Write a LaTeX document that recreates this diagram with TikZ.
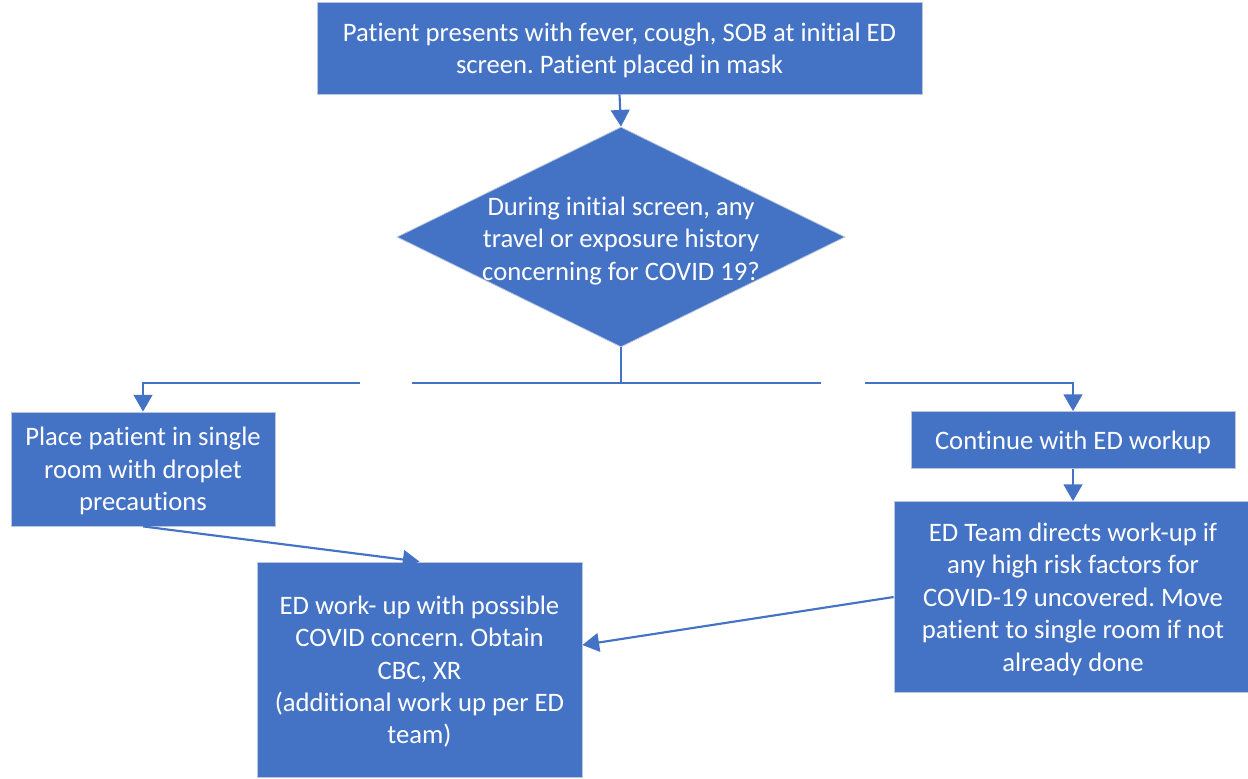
\documentclass[tikz,border=0pt]{standalone}
\usepackage{fontspec}
\setmainfont{Carlito}[Ligatures=NoCommon]
\usetikzlibrary{shapes.geometric,arrows.meta,calc}
\definecolor{boxblue}{HTML}{4472C4}
\definecolor{boxedge}{HTML}{B9C6DE}
\frenchspacing
\begin{document}
\begin{tikzpicture}[x=0.75pt,y=-0.75pt,
  txt/.style={text=white,align=center,font=\fontsize{20}{24.3}\selectfont\frenchspacing},
  box/.style={rectangle,fill=boxblue,draw=boxedge,line width=0.6pt,inner sep=0pt},
  boxtext/.style={label={[txt,yshift=-1.6pt]center:{#1}}},
  conn/.style={draw=boxblue,line width=1.6pt},
  arr/.style={conn,-{Triangle[width=14pt,length=12.5pt]}}]
\useasboundingbox (0,0) rectangle (1248,778);
\node[box,minimum width=605*0.75pt,minimum height=92*0.75pt,
  boxtext={Patient presents with fever, cough, SOB at initial ED\\screen. Patient placed in mask}] (top) at (619.5,48) {};
\node[diamond,fill=boxblue,draw=boxedge,line width=0.6pt,inner sep=0pt,minimum width=448*0.75pt,minimum height=220*0.75pt] (dia) at (621,237) {};
\node[txt] (diatext) at (621,241)
  {During initial screen, any\\travel or exposure history\\concerning for COVID 19?};
\node[box,minimum width=264*0.75pt,minimum height=114*0.75pt,
  boxtext={Place patient in single\\room with droplet\\precautions}] (left) at (143,469) {};
\node[box,minimum width=324*0.75pt,minimum height=57*0.75pt,
  boxtext={Continue with ED workup}] (cont) at (1073,440) {};
\node[box,minimum width=358*0.75pt,minimum height=191*0.75pt,
  boxtext={ED Team directs work-up if\\any high risk factors for\\COVID-19 uncovered. Move\\patient to single room if not\\already done}] (team) at (1073,597) {};
\node[box,minimum width=325*0.75pt,minimum height=215*0.75pt,
  boxtext={ED work- up with possible\\COVID concern. Obtain\\CBC, XR\\(additional work up per ED\\team)}] (work) at (419.5,669.5) {};
\coordinate (split) at (621,383);
\coordinate (lgapR) at (412,383);
\coordinate (lgapL) at (360,383);
\coordinate (lcorner) at (143,383);
\coordinate (rgapL) at (821,383);
\coordinate (rgapR) at (865,383);
\coordinate (rcorner) at (1073,383);
\draw[arr] (top.south) -- (dia.north);
\draw[conn] (dia.south) -- (split);
\draw[conn] (split) -- (lgapR);
\draw[arr] (lgapL) -- (lcorner) -- (left.north);
\draw[conn] (split) -- (rgapL);
\draw[arr] (rgapR) -- (rcorner) -- (cont.north);
\draw[arr] (cont.south) -- (team.north);
\draw[arr] (left.south) -- (work.north);
\draw[arr] (team.west) -- ($(work.east)+(0,-24.5)$);
\end{tikzpicture}
\end{document}
